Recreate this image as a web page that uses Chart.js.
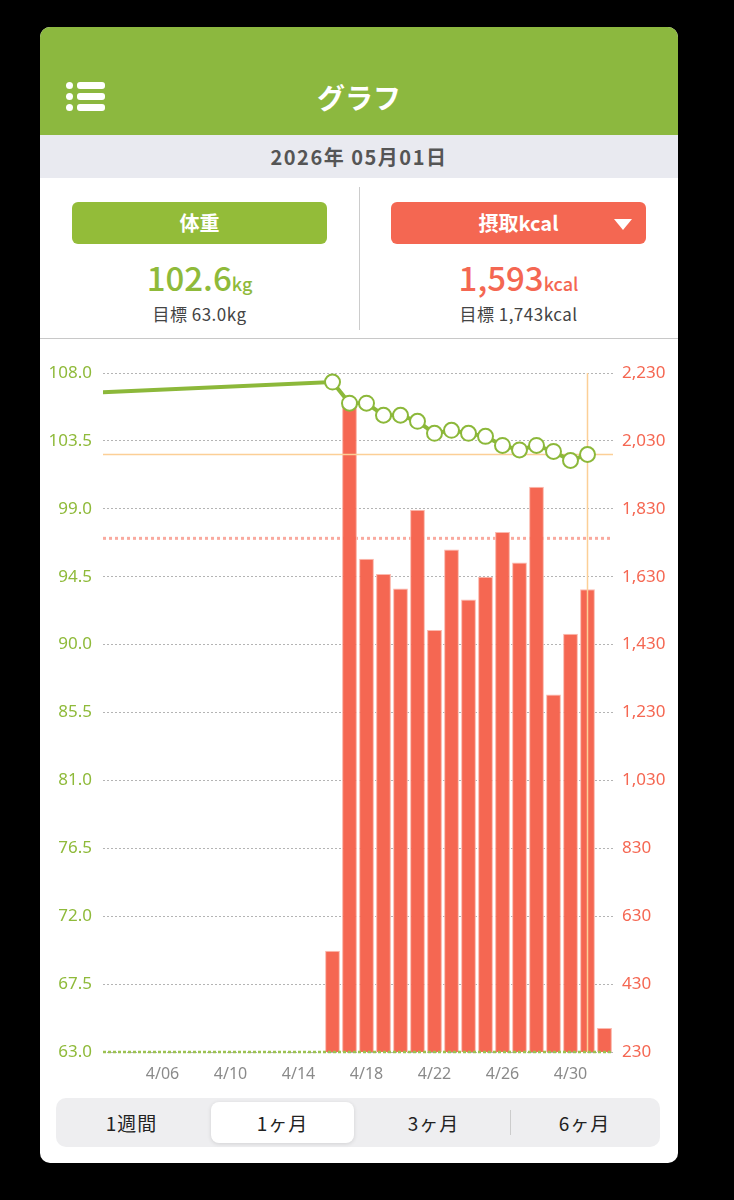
<!DOCTYPE html>
<html lang="ja">
<head>
    <meta charset="UTF-8">
    <meta name="viewport" content="width=device-width, initial-scale=1.0">
    <title>グラフ</title>
    <style>
        body {
            margin: 0;
            background: #000;
            width: 734px;
            height: 1200px;
            font-family: "Noto Sans CJK JP", "Noto Sans", sans-serif;
        }
        #card {
            position: absolute;
            left: 40px;
            top: 27px;
            width: 638px;
            height: 1136px;
            background: #fff;
            border-radius: 10px;
            overflow: hidden;
        }
        #header {
            position: absolute;
            left: 0; top: 0;
            width: 638px; height: 108px;
            background: #8cb83f;
        }
        #header h1 {
            position: absolute;
            left: 0; right: 0; top: 50px;
            margin: 0;
            text-align: center;
            color: #fff;
            font-size: 28px;
            font-weight: 700;
            line-height: 40px;
        }
        .menu span {
            position: absolute;
            background: #fff;
            border-radius: 3px;
        }
        #dateBar {
            position: absolute;
            left: 0; top: 108px;
            width: 638px; height: 43px;
            background: #e9eaf0;
            text-align: center;
            line-height: 43px;
            color: #555;
            font-size: 20px;
            font-weight: 700;
            letter-spacing: 1.5px;
        }
        .panel {
            position: absolute;
            top: 151px;
            width: 319px;
            height: 160px;
            text-align: center;
        }
        .btn {
            position: absolute;
            top: 24px;
            width: 255px;
            height: 42px;
            border-radius: 6px;
            color: #fff;
            font-size: 20px;
            font-weight: 700;
            line-height: 42px;
        }
        .big {
            position: absolute;
            left: 0; right: 0; top: 79px;
            font-size: 33px;
            font-weight: 500;
            line-height: 40px;
        }
        .big small { font-size: 18px; }
        .goal {
            position: absolute;
            left: 0; right: 0; top: 124px;
            font-size: 17px;
            color: #444;
            line-height: 24px;
            letter-spacing: 0.5px;
        }
        #divider {
            position: absolute;
            left: 319px; top: 160px;
            width: 1px; height: 143px;
            background: #ccc;
        }
        #rule {
            position: absolute;
            left: 0; top: 311px;
            width: 638px; height: 1px;
            background: #c8c8c8;
        }
        #chartBox {
            position: absolute;
            left: 0; top: 312px;
            width: 638px; height: 751px;
        }
        #seg {
            position: absolute;
            left: 16px; top: 1071px;
            width: 604px; height: 49px;
            background: #eeeef0;
            border-radius: 10px;
        }
        #seg .pill {
            position: absolute;
            left: 155px; top: 4px;
            width: 143px; height: 41px;
            background: #fff;
            border-radius: 8px;
            box-shadow: 0 1px 4px rgba(0,0,0,0.12);
        }
        #seg .lab {
            position: absolute;
            top: 0;
            width: 151px;
            line-height: 49px;
            text-align: center;
            font-size: 19px;
            color: #222;
            letter-spacing: 1px;
        }
        #seg .sep {
            position: absolute;
            left: 454px; top: 12px;
            width: 1px; height: 25px;
            background: #ccc;
        }
    </style>
    <script src="https://cdn.jsdelivr.net/npm/chart.js"></script>
</head>
<body>
<div id="card">
    <div id="header">
        <div class="menu">
            <span style="left:26px;top:55px;width:7px;height:7px;border-radius:50%"></span>
            <span style="left:26px;top:66px;width:7px;height:7px;border-radius:50%"></span>
            <span style="left:26px;top:77px;width:7px;height:7px;border-radius:50%"></span>
            <span style="left:37px;top:55px;width:28px;height:7px"></span>
            <span style="left:37px;top:66px;width:28px;height:7px"></span>
            <span style="left:37px;top:77px;width:28px;height:7px"></span>
        </div>
        <h1>グラフ</h1>
    </div>
    <div id="dateBar">2026年 05月01日</div>

    <div class="panel" style="left:0">
        <div class="btn" style="left:32px;background:#93bc39">体重</div>
        <div class="big" style="color:#8fba3a">102.6<small>kg</small></div>
        <div class="goal">目標 63.0kg</div>
    </div>
    <div id="divider"></div>
    <div class="panel" style="left:319px">
        <div class="btn" style="left:32px;background:#f46752">摂取kcal
            <span style="position:absolute;right:14px;top:17px;width:0;height:0;border-left:9px solid transparent;border-right:9px solid transparent;border-top:11px solid #fff"></span>
        </div>
        <div class="big" style="color:#f46752">1,593<small>kcal</small></div>
        <div class="goal">目標 1,743kcal</div>
    </div>
    <div id="rule"></div>

    <div id="chartBox"><canvas id="graph"></canvas></div>

    <div id="seg">
        <div class="pill"></div>
        <div class="lab" style="left:0">1週間</div>
        <div class="lab" style="left:151px">1ヶ月</div>
        <div class="lab" style="left:302px">3ヶ月</div>
        <div class="sep"></div>
        <div class="lab" style="left:453px">6ヶ月</div>
    </div>
</div>

<script>
    // 1ヶ月表示: 4/03 〜 5/02
    const days = ['4/03', '4/04', '4/05', '4/06', '4/07', '4/08', '4/09', '4/10', '4/11', '4/12',
                  '4/13', '4/14', '4/15', '4/16', '4/17', '4/18', '4/19', '4/20', '4/21', '4/22',
                  '4/23', '4/24', '4/25', '4/26', '4/27', '4/28', '4/29', '4/30', '5/01', '5/02'];
    const tickDays = ['4/06', '4/10', '4/14', '4/18', '4/22', '4/26', '4/30'];

    const kcal = [null, null, null, null, null, null, null, null, null, null,
                  null, null, null, 528, 2130, 1683, 1638, 1595, 1827, 1473,
                  1710, 1563, 1630, 1762, 1672, 1895, 1283, 1462, 1593, 301];
    const weight = [null, null, null, null, null, null, null, null, null, null,
                    null, null, null, 107.4, 106.0, 106.0, 105.2, 105.2, 104.8, 104.0,
                    104.2, 104.0, 103.8, 103.2, 102.9, 103.2, 102.8, 102.2, 102.6, null];

    // 表示範囲より前の最後の記録 (3/31)
    const prevWeightOffset = -3;
    const prevWeight = 106.6;

    const weightGoal = 63.0;
    const kcalGoal = 1743;
    const selectedDay = '5/01';
    const selectedWeight = 102.6;

    const weightTicks = [63.0, 67.5, 72.0, 76.5, 81.0, 85.5, 90.0, 94.5, 99.0, 103.5, 108.0];
    const kcalTicks = [230, 430, 630, 830, 1030, 1230, 1430, 1630, 1830, 2030, 2230];

    const GREEN = '#8fba3a';
    const RED = '#f56752';
    const tickFont = { size: 17, family: '"Noto Sans", sans-serif' };

    const weightPoints = [{ x: prevWeightOffset, y: prevWeight }];
    weight.forEach((w, i) => { if (w !== null) weightPoints.push({ x: i, y: w }); });
    const kcalPoints = [];
    kcal.forEach((k, i) => { if (k !== null) kcalPoints.push({ x: i, y: k }); });

    const firstX = -0.5;
    const lastX = days.length - 0.5;

    // 選択日の十字線 (棒の上、折れ線の下)
    const crosshair = {
        id: 'crosshair',
        afterDatasetDraw(chart, args) {
            if (args.index !== 2) return;
            const { ctx, chartArea, scales } = chart;
            const x = scales.x.getPixelForValue(days.indexOf(selectedDay));
            const y = scales.yW.getPixelForValue(selectedWeight);
            ctx.save();
            ctx.strokeStyle = '#fccf96';
            ctx.lineWidth = 1.5;
            ctx.beginPath();
            ctx.moveTo(x, chartArea.top);
            ctx.lineTo(x, chartArea.bottom);
            ctx.moveTo(chartArea.left, y);
            ctx.lineTo(chartArea.right, y);
            ctx.stroke();
            ctx.restore();
        }
    };

    const ctx = document.getElementById('graph').getContext('2d');
    const grafico = new Chart(ctx, {
        data: {
            datasets: [
                {
                    type: 'line',
                    label: '目標体重',
                    data: [{ x: firstX, y: weightGoal }, { x: lastX, y: weightGoal }],
                    yAxisID: 'yW',
                    borderColor: '#9cc250',
                    borderWidth: 2.5,
                    borderDash: [3, 2],
                    pointRadius: 0,
                    clip: false,
                    order: 0,
                },
                {
                    type: 'line',
                    label: '目標kcal',
                    data: [{ x: firstX, y: kcalGoal }, { x: lastX, y: kcalGoal }],
                    yAxisID: 'yK',
                    borderColor: '#f9aa9f',
                    borderWidth: 3,
                    borderDash: [3, 3],
                    pointRadius: 0,
                    order: 4,
                },
                {
                    type: 'bar',
                    label: '摂取kcal',
                    data: kcalPoints,
                    yAxisID: 'yK',
                    backgroundColor: RED,
                    borderColor: '#fbb9ae',
                    borderWidth: 1,
                    categoryPercentage: 1,
                    barPercentage: 0.87,
                    order: 3,
                },
                {
                    type: 'line',
                    label: '体重',
                    data: weightPoints,
                    yAxisID: 'yW',
                    borderColor: '#8cb83a',
                    borderWidth: 4,
                    pointRadius: weightPoints.map((p, i) => i === 0 ? 0 : 7.5),
                    pointBackgroundColor: '#fff',
                    pointBorderColor: '#8cb83a',
                    pointBorderWidth: 2,
                    tension: 0,
                    clip: { left: 0, top: 12, right: 12, bottom: 0 },
                    order: 1,
                },
            ],
        },
        options: {
            responsive: true,
            maintainAspectRatio: false,
            animation: false,
            layout: { padding: { top: 34, left: 0, right: 0, bottom: 0 } },
            plugins: {
                legend: { display: false },
                tooltip: { enabled: false },
            },
            scales: {
                x: {
                    type: 'linear',
                    offset: false,
                    min: firstX,
                    max: lastX,
                    grid: { display: false, offset: false },
                    border: { display: false },
                    afterBuildTicks: (axis) => {
                        axis.ticks = tickDays.map(d => ({ value: days.indexOf(d) }));
                    },
                    afterFit: (axis) => { axis.height = 38; },
                    ticks: {
                        autoSkip: false,
                        maxRotation: 0,
                        padding: 5,
                        color: '#8a8a8a',
                        font: { size: 16, family: '"Noto Sans", sans-serif' },
                        callback: (v) => days[v],
                    },
                },
                yW: {
                    type: 'linear',
                    position: 'left',
                    min: 63,
                    max: 108,
                    afterBuildTicks: (axis) => {
                        axis.ticks = weightTicks.map(v => ({ value: v }));
                    },
                    afterFit: (axis) => { axis.width = 63; },
                    grid: { color: '#b4b4b4', lineWidth: 1, drawTicks: false },
                    border: { display: false, dash: [2, 2] },
                    ticks: {
                        padding: 11,
                        color: GREEN,
                        font: tickFont,
                        callback: (v) => v.toFixed(1),
                    },
                },
                yK: {
                    type: 'linear',
                    position: 'right',
                    min: 230,
                    max: 2230,
                    afterBuildTicks: (axis) => {
                        axis.ticks = kcalTicks.map(v => ({ value: v }));
                    },
                    afterFit: (axis) => { axis.width = 65; },
                    grid: { display: false, drawTicks: false },
                    border: { display: false },
                    ticks: {
                        padding: 9,
                        color: RED,
                        font: tickFont,
                        callback: (v) => v.toLocaleString('en-US'),
                    },
                },
            },
        },
        plugins: [crosshair],
    });
</script>
</body>
</html>
